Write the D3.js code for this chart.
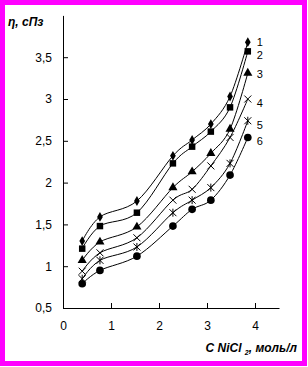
<!DOCTYPE html>
<html>
<head>
<meta charset="utf-8">
<script src="https://cdn.jsdelivr.net/npm/d3@7"></script>
<style>
  html, body { margin: 0; padding: 0; background: #fff; }
  svg { display: block; }
  text { font-family: "Liberation Sans", Arial, sans-serif; }
</style>
</head>
<body>
<svg id="chart" width="308" height="367"></svg>
<script>
  // concentration of NiCl2, mol/l
  var conc = [0.4, 0.77, 1.54, 2.29, 2.69, 3.08, 3.48, 3.85];

  // viscosity, cP — curves 1..6
  var curve1 = [1.30, 1.59, 1.78, 2.32, 2.51, 2.70, 3.03, 3.68];
  var curve2 = [1.21, 1.48, 1.64, 2.23, 2.43, 2.61, 2.90, 3.57];
  var curve3 = [1.07, 1.29, 1.47, 1.94, 2.13, 2.35, 2.64, 3.31];
  var curve4 = [0.94, 1.16, 1.34, 1.79, 1.92, 2.20, 2.54, 3.00];
  var curve5 = [0.85, 1.07, 1.23, 1.64, 1.79, 1.94, 2.23, 2.74];
  var curve6 = [0.79, 0.95, 1.12, 1.48, 1.68, 1.79, 2.09, 2.54];

  var curveNames = ["1", "2", "3", "4", "5", "6"];
  var xTicks = [0, 1, 2, 3, 4];
  var yTicks = [0.5, 1, 1.5, 2, 2.5, 3, 3.5];

  var series = [curve1, curve2, curve3, curve4, curve5, curve6];
  var markers = ["diamond", "square", "triangle", "cross", "star", "circle"];
  var labelShift = [-0.5, 4, 1, 4, 4, 3.5];

  var svg = d3.select("#chart");

  // magenta frame
  svg.append("rect")
      .attr("x", 2.5).attr("y", 2.5)
      .attr("width", 302).attr("height", 361)
      .attr("fill", "#fff")
      .attr("stroke", "#ff00ff")
      .attr("stroke-width", 5);

  var x = d3.scaleLinear().domain([0, 4.5]).range([63, 279]);
  var y = d3.scaleLinear().domain([0.5, 4]).range([308, 15.4]);

  var fmt = function(d) { return String(d).replace(".", ","); };

  var xAxis = svg.append("g")
      .attr("transform", "translate(0,308)")
      .call(d3.axisBottom(x).tickValues(xTicks).tickSizeInner(-5).tickSizeOuter(0).tickPadding(13).tickFormat(fmt));
  var yAxis = svg.append("g")
      .attr("transform", "translate(63,0)")
      .call(d3.axisLeft(y).tickValues(yTicks).tickSizeInner(-5).tickSizeOuter(0).tickPadding(11).tickFormat(fmt));

  [xAxis, yAxis].forEach(function(a) {
    a.selectAll("path, line").attr("stroke", "#000").attr("stroke-width", 1);
    a.selectAll("text")
      .attr("fill", "#000")
      .style("font-size", "12px")
      .style("font-family", "'Liberation Sans', Arial, sans-serif");
  });

  var line = d3.line()
      .x(function(d, i) { return x(conc[i]); })
      .y(function(d) { return y(d); })
      .curve(d3.curveCardinal.tension(0));

  var symbolType = {
    diamond: d3.symbolDiamond,
    square: d3.symbolSquare,
    triangle: d3.symbolTriangle,
    circle: d3.symbolCircle
  };
  var symbolSize = { diamond: 28, square: 42, triangle: 36, circle: 46 };

  series.forEach(function(vals, k) {
    svg.append("path")
      .attr("d", line(vals))
      .attr("fill", "none")
      .attr("stroke", "#000")
      .attr("stroke-width", 1);

    var g = svg.append("g");
    vals.forEach(function(v, i) {
      var px = x(conc[i]), py = y(v), m = markers[k];
      if (m === "cross" || m === "star") {
        var s = 3.5;
        var p = "M" + (px - s) + "," + (py - s) + "L" + (px + s) + "," + (py + s) +
                "M" + (px - s) + "," + (py + s) + "L" + (px + s) + "," + (py - s);
        if (m === "star") p += "M" + px + "," + (py - s - 0.5) + "L" + px + "," + (py + s + 0.5);
        g.append("path").attr("d", p).attr("stroke", "#000").attr("stroke-width", 1).attr("fill", "none");
      } else {
        g.append("path")
          .attr("d", d3.symbol().type(symbolType[m]).size(symbolSize[m])())
          .attr("transform", "translate(" + px + "," + py + ")")
          .attr("fill", "#000");
      }
    });

    svg.append("text")
      .attr("x", x(conc[conc.length - 1]) + 9)
      .attr("y", y(vals[vals.length - 1]) + labelShift[k])
      .attr("dy", "0.35em")
      .style("font-size", "11px")
      .text(curveNames[k]);
  });

  svg.append("text")
      .attr("x", 8).attr("y", 26)
      .style("font-size", "12px")
      .style("font-weight", "bold")
      .style("font-style", "italic")
      .text("η, сПз");

  var xl = svg.append("text")
      .attr("x", 297).attr("y", 352)
      .attr("text-anchor", "end")
      .style("font-size", "12px")
      .style("font-weight", "bold")
      .style("font-style", "italic");
  xl.append("tspan").text("C NiCl ");
  xl.append("tspan").attr("dy", 3).style("font-size", "7px").text("2");
  xl.append("tspan").attr("dy", -3).text(", моль/л");
</script>
</body>
</html>
